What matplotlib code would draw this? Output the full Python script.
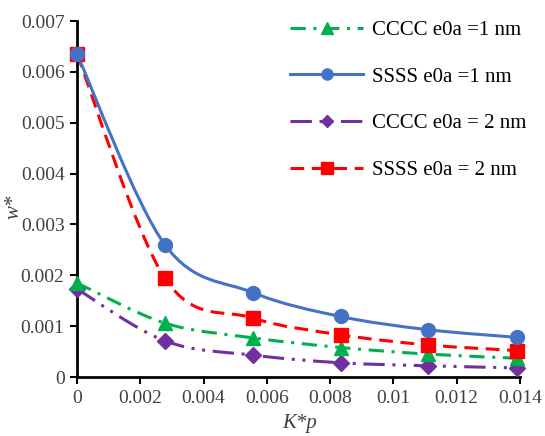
import numpy as np
import matplotlib
matplotlib.use("Agg")
import matplotlib.pyplot as plt
from matplotlib.path import Path
from matplotlib.patches import PathPatch
from matplotlib.lines import Line2D

plt.rcParams['font.family'] = ['Liberation Serif', 'DejaVu Serif']

# data
kp = [0, 0.00278, 0.00556, 0.00833, 0.0111, 0.0139]
cccc_1nm = [0.00185, 0.00106, 0.00077, 0.00058, 0.00045, 0.00037]
ssss_1nm = [0.00635, 0.0026, 0.00166, 0.00119, 0.00093, 0.00078]
cccc_2nm = [0.00173, 0.00071, 0.00043, 0.00028, 0.00022, 0.00018]
ssss_2nm = [0.00635, 0.00194, 0.00116, 0.00083, 0.00063, 0.00052]
labels = ['CCCC e0a =1 nm', 'SSSS e0a =1 nm', 'CCCC e0a = 2 nm', 'SSSS e0a = 2 nm']


def smooth_path(x, y):
    # Excel-style smoothed line as cubic Bezier segments (Catmull-Rom control points)
    p = np.column_stack([x, y])
    verts = [p[0]]
    codes = [Path.MOVETO]
    n = len(p)
    for i in range(n - 1):
        p0 = p[i - 1] if i > 0 else p[i]
        p3 = p[i + 2] if i + 2 < n else p[i + 1]
        c1 = p[i] + (p[i + 1] - p0) / 6
        c2 = p[i + 1] - (p3 - p[i]) / 6
        verts += [c1, c2, p[i + 1]]
        codes += [Path.CURVE4] * 3
    return Path(verts, codes)


styles = [
    dict(color='#00B050', ls=(0, (5, 2.5, 1, 2.5)), marker='^', ms=10),
    dict(color='#4472C4', ls='-', marker='o', ms=10),
    dict(color='#7030A0', ls=(0, (7, 2.5, 1, 2.5, 1, 2.5)), marker='D', ms=8),
    dict(color='#FF0000', ls=(0, (4.5, 2.5)), marker='s', ms=10.5),
]
series = [cccc_1nm, ssss_1nm, cccc_2nm, ssss_2nm]

fig = plt.figure(figsize=(5.45, 4.36), dpi=100)
ax = fig.add_axes([0.1413, 0.1353, 0.8127, 0.8165])

handles = []
# draw in order so that blue/red sit on top like the reference
for idx in [2, 0, 3, 1]:
    st = styles[idx]
    ax.add_patch(PathPatch(smooth_path(kp, series[idx]), fill=False,
                           edgecolor=st['color'], lw=2.2, linestyle=st['ls'],
                           capstyle='butt', zorder=2))
    ax.plot(kp, series[idx], ls='none', marker=st['marker'], ms=st['ms'],
            color=st['color'], zorder=3, clip_on=False)
for idx in range(4):
    st = styles[idx]
    handles.append(Line2D([], [], color=st['color'], lw=2.2, ls=st['ls'],
                          marker=st['marker'], ms=st['ms'] - 2))

ax.set_xlim(0, 0.014)
ax.set_ylim(0, 0.007)
ax.set_xticks(np.arange(0, 0.0141, 0.002))
ax.set_xticklabels(['0', '0.002', '0.004', '0.006', '0.008', '0.01', '0.012', '0.014'])
ax.set_yticks(np.arange(0, 0.0071, 0.001))
ax.set_yticklabels(['0', '0.001', '0.002', '0.003', '0.004', '0.005', '0.006', '0.007'])
ax.tick_params(labelsize=14, direction='out', length=5, width=1.5, colors='black',
               labelcolor='#404040', pad=4)
for s in ['top', 'right']:
    ax.spines[s].set_visible(False)
for s in ['left', 'bottom']:
    ax.spines[s].set_linewidth(2)

ax.set_xlabel('K*p', fontsize=15, style='italic', color='#404040')
ax.set_ylabel('w*', fontsize=15, style='italic', color='#404040')
ax.xaxis.set_label_coords(0.503, -0.105)
ax.yaxis.set_label_coords(-0.12, 0.478)

ax.legend(handles, labels, loc='upper left', bbox_to_anchor=(282 / 545, 1 - 12 / 436),
          bbox_transform=fig.transFigure, borderaxespad=0,
          frameon=False, fontsize=15, labelspacing=1.3, handlelength=3.5,
          handletextpad=0.4)

fig.savefig('out.png', dpi=100)
